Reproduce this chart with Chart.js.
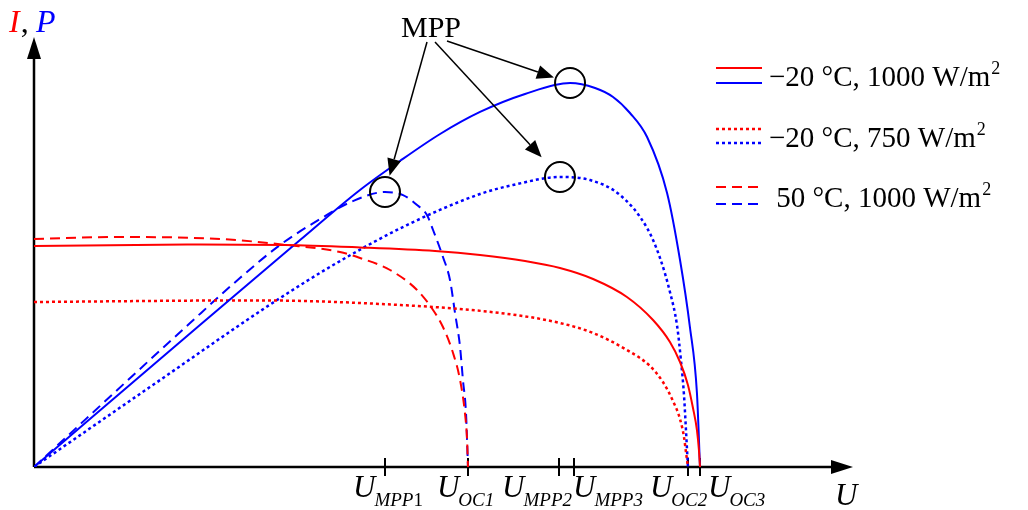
<!DOCTYPE html>
<html lang="en">
<head>
  <meta charset="UTF-8">
  <title>I-U and P-U curves, MPP</title>
  <script src="https://cdn.jsdelivr.net/npm/chart.js"></script>
  <style>
    html, body {
      margin: 0;
      padding: 0;
      background: #fff;
    }

    #wrap {
      width: 1028px;
      height: 510px;
      position: relative;
    }
  </style>
</head>

<body>
  <div id="wrap"><canvas id="pv"></canvas></div>

  <script>
    // -20 °C, 1000 W/m2  (U in V, I in A, P in W)
    const uCurrentA = [0, 8.5, 13.94, 18.11, 22.28, 24.78, 27.28, 29.22, 31.06, 32.94, 34.39, 35.33, 35.89, 36.33, 36.61, 36.83, 36.94, 37.0];
    const currentA = [11.05, 11.12, 11.1, 10.98, 10.8, 10.6, 10.3, 9.95, 9.4, 8.5, 7.35, 6.25, 5.25, 4.1, 2.95, 1.85, 0.85, 0];
    const uPowerA = [0, 9.22, 14.78, 18.11, 20.33, 22.56, 24.78, 27.28, 29.78, 31.17, 32.17, 33.11, 34.06, 35.17, 35.89, 36.44, 36.83, 37.0];
    const powerA = [0, 94.7, 151.3, 184.7, 204, 222, 236.7, 248.7, 256, 252.7, 246.7, 236, 220, 182.7, 138, 93.3, 49.3, 0];

    // -20 °C, 750 W/m2
    const uCurrentB = [0, 12.17, 18.11, 25.89, 29.22, 31.06, 32.94, 34.22, 34.94, 35.5, 35.89, 36.11, 36.22, 36.33];
    const currentB = [8.25, 8.33, 8.2, 7.7, 7.2, 6.7, 5.85, 5.05, 4.25, 3.3, 2.4, 1.5, 0.75, 0];
    const uPowerB = [0, 6.44, 13.5, 17.0, 20.72, 24.78, 26.61, 29.22, 30.89, 32.56, 34.06, 34.78, 35.33, 35.72, 35.94, 36.11, 36.22, 36.33];
    const powerB = [0, 53.3, 111.3, 137.3, 161.3, 182, 188, 193.3, 191.3, 181.3, 159.3, 139.3, 116.7, 94.7, 71.3, 48, 24.7, 0];

    // 50 °C, 1000 W/m2
    const uCurrentC = [0, 4.78, 10.33, 14.06, 17.0, 18.11, 19.78, 21.28, 22.17, 22.72, 23.28, 23.67, 23.94, 24.06, 24.11];
    const currentC = [11.4, 11.5, 11.4, 11.1, 10.75, 10.45, 9.85, 8.85, 7.85, 7.0, 5.7, 4.35, 2.7, 1.35, 0];
    const uPowerC = [0, 8.67, 11.44, 13.67, 15.89, 17.72, 19.5, 20.5, 21.28, 21.83, 22.17, 22.72, 23.11, 23.39, 23.67, 23.83, 24.0, 24.11];
    const powerC = [0, 96, 126, 148, 165.3, 177.3, 183.3, 181.3, 174.7, 168, 158, 140, 124.7, 102.7, 80, 58, 36, 0];

    // marked voltages on the U axis
    const tickValues = [19.5, 24.11, 29.17, 30.0, 36.33, 37.0];
    const tickSubs = ['MPP', 'OC1', 'MPP2', 'MPP3', 'OC2', 'OC3'];
    const tickSubUpright = ['1', '', '', '', '', ''];

    // maximum power points (circled): 50 °C, -20 °C/750, -20 °C/1000
    const mppU = [19.5, 29.22, 29.78];
    const mppP = [183.3, 193.3, 256];

    const legendLabels = ['\u221220 \u00b0C, 1000 W/m', '\u221220 \u00b0C, 750 W/m', ' 50 \u00b0C, 1000 W/m'];

    const RED = '#ff0000';
    const BLUE = '#0000ff';
    const SERIF = '"Liberation Serif", "Times New Roman", serif';
    const DOT = [3, 3];
    const DASH = [10, 6];

    function pts(us, vs) {
      return us.map((u, i) => ({ x: u, y: vs[i] }));
    }

    function curve(label, data, color, axis, dash, width) {
      return {
        label: label,
        data: data,
        borderColor: color,
        yAxisID: axis,
        borderDash: dash,
        borderWidth: width,
        pointRadius: 0,
        fill: false,
        cubicInterpolationMode: 'monotone'
      };
    }

    function arrow(ctx, x1, y1, x2, y2, len, half) {
      const a = Math.atan2(y2 - y1, x2 - x1);
      const bx = x2 - len * Math.cos(a), by = y2 - len * Math.sin(a);
      ctx.beginPath();
      ctx.moveTo(x1, y1);
      ctx.lineTo(bx, by);
      ctx.stroke();
      ctx.beginPath();
      ctx.moveTo(x2, y2);
      ctx.lineTo(bx + half * Math.sin(a), by - half * Math.cos(a));
      ctx.lineTo(bx - half * Math.sin(a), by + half * Math.cos(a));
      ctx.closePath();
      ctx.fill();
    }

    const decor = {
      id: 'decor',
      beforeDatasetsDraw(chart) {
        const ctx = chart.ctx;
        const x = chart.scales.x;
        const ox = chart.chartArea.left, oy = chart.chartArea.bottom;
        ctx.save();
        ctx.strokeStyle = '#000';
        ctx.fillStyle = '#000';
        ctx.lineWidth = 2.5;
        // axes with arrow heads
        arrow(ctx, ox, oy, 853, oy, 22, 7);
        arrow(ctx, ox, oy, ox, 37, 22, 7);
        // tick marks
        ctx.lineWidth = 2;
        tickValues.forEach(v => {
          const px = Math.round(x.getPixelForValue(v));
          ctx.beginPath();
          ctx.moveTo(px, oy - 9);
          ctx.lineTo(px, oy + 9);
          ctx.stroke();
        });
        ctx.restore();
      },
      afterDatasetsDraw(chart) {
        const ctx = chart.ctx;
        const x = chart.scales.x, yP = chart.scales.yP;
        ctx.save();
        ctx.fillStyle = '#000';
        ctx.strokeStyle = '#000';

        // tick labels U_xxx
        const shift = [-32, -31, -57, -1, -38, 8];
        tickValues.forEach((v, i) => {
          let px = x.getPixelForValue(v) + shift[i];
          ctx.font = 'italic 31px ' + SERIF;
          ctx.fillText('U', px, 497);
          px += ctx.measureText('U').width - 1;
          ctx.font = 'italic 19px ' + SERIF;
          ctx.fillText(tickSubs[i], px, 506);
          px += ctx.measureText(tickSubs[i]).width;
          if (tickSubUpright[i]) {
            ctx.font = '19px ' + SERIF;
            ctx.fillText(tickSubUpright[i], px, 506);
          }
        });

        // axis titles
        ctx.font = 'italic 31px ' + SERIF;
        ctx.fillText('U', 835, 505);
        ctx.font = 'italic 32px ' + SERIF;
        ctx.fillStyle = RED;
        ctx.fillText('I', 9, 32);
        let w = ctx.measureText('I').width;
        ctx.fillStyle = '#000';
        ctx.font = '32px ' + SERIF;
        ctx.fillText(',', 9 + w + 1, 32);
        ctx.font = 'italic 32px ' + SERIF;
        ctx.fillStyle = BLUE;
        ctx.fillText('P', 36, 32);

        // MPP circles and arrows
        ctx.fillStyle = '#000';
        ctx.font = '30px ' + SERIF;
        ctx.textAlign = 'center';
        ctx.fillText('MPP', 431, 37);
        ctx.textAlign = 'left';
        const starts = [[427, 42], [435, 42], [447, 41]];
        const tipDist = [17, 27, 17];
        mppU.forEach((u, i) => {
          const cx = x.getPixelForValue(u), cy = yP.getPixelForValue(mppP[i]);
          ctx.lineWidth = 2;
          ctx.beginPath();
          ctx.arc(cx, cy, 15, 0, Math.PI * 2);
          ctx.stroke();
          const [sx, sy] = starts[i];
          const d = Math.hypot(cx - sx, cy - sy);
          const tx = cx - (cx - sx) / d * tipDist[i], ty = cy - (cy - sy) / d * tipDist[i];
          ctx.lineWidth = 1.5;
          arrow(ctx, sx, sy, tx, ty, 17, 7);
        });

        // legend
        const styles = [[], DOT, DASH];
        const redY = [68, 129, 187], blueY = [83, 143, 204], baseY = [86, 147, 207];
        legendLabels.forEach((lab, i) => {
          ctx.lineWidth = i === 1 ? 2.5 : 2;
          ctx.setLineDash(styles[i]);
          [[RED, redY[i]], [BLUE, blueY[i]]].forEach(([c, yy]) => {
            ctx.strokeStyle = c;
            ctx.beginPath();
            ctx.moveTo(716, yy);
            ctx.lineTo(762, yy);
            ctx.stroke();
          });
          ctx.setLineDash([]);
          ctx.fillStyle = '#000';
          ctx.font = '29px ' + SERIF;
          ctx.fillText(lab, 769, baseY[i]);
          const lw = ctx.measureText(lab).width;
          ctx.font = '18px ' + SERIF;
          ctx.fillText('2', 769 + lw + 1, baseY[i] - 12);
        });
        ctx.restore();
      }
    };

    new Chart(document.getElementById('pv'), {
      type: 'line',
      data: {
        datasets: [
          curve('I, -20 °C, 1000 W/m2', pts(uCurrentA, currentA), RED, 'yI', [], 2),
          curve('P, -20 °C, 1000 W/m2', pts(uPowerA, powerA), BLUE, 'yP', [], 2),
          curve('I, -20 °C, 750 W/m2', pts(uCurrentB, currentB), RED, 'yI', DOT, 2.5),
          curve('P, -20 °C, 750 W/m2', pts(uPowerB, powerB), BLUE, 'yP', DOT, 2.5),
          curve('I, 50 °C, 1000 W/m2', pts(uCurrentC, currentC), RED, 'yI', DASH, 2),
          curve('P, 50 °C, 1000 W/m2', pts(uPowerC, powerC), BLUE, 'yP', DASH, 2)
        ]
      },
      options: {
        responsive: true,
        maintainAspectRatio: false,
        animation: false,
        layout: {
          padding: { left: 34, right: 184, top: 37, bottom: 43 }
        },
        plugins: {
          legend: { display: false },
          tooltip: { enabled: false },
          title: { display: false }
        },
        scales: {
          x: { type: 'linear', min: 0, max: 45, display: false },
          yI: { type: 'linear', min: 0, max: 21.5, display: false },
          yP: { type: 'linear', min: 0, max: 430 / 1.5, display: false }
        }
      },
      plugins: [decor]
    });
  </script>
</body>

</html>
